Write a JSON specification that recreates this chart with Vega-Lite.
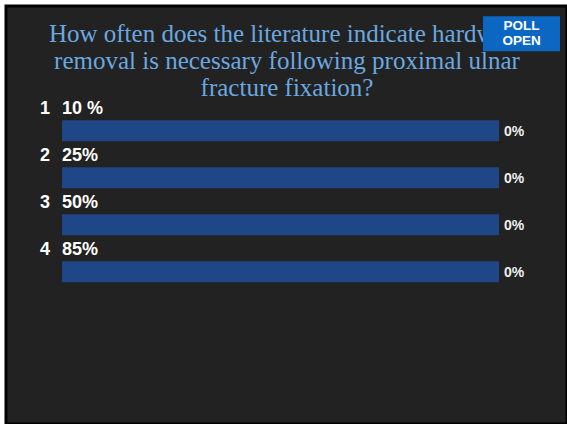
{
  "$schema": "https://vega.github.io/schema/vega-lite/v6.json",
  "width": 567,
  "height": 424,
  "autosize": {"type": "fit", "contains": "padding"},
  "padding": {"left": 6, "top": 6, "right": 0, "bottom": 0},
  "background": "white",
  "config": {
    "view": {"fill": "#222222", "stroke": "black", "strokeWidth": 3},
    "text": {"font": "Liberation Sans"}
  },
  "datasets": {
    "options": [
      {"row": 1, "answer": "10 %", "pct": 0, "track": 100},
      {"row": 2, "answer": "25%", "pct": 0, "track": 100},
      {"row": 3, "answer": "50%", "pct": 0, "track": 100},
      {"row": 4, "answer": "85%", "pct": 0, "track": 100}
    ],
    "question": [
      {"text": "How often does the literature indicate hardware\nremoval is necessary following proximal ulnar\nfracture fixation?"}
    ],
    "badge": [
      {"line": "POLL", "k": 0},
      {"line": "OPEN", "k": 1}
    ]
  },
  "layer": [
    {
      "data": {"name": "question"},
      "mark": {"type": "text", "font": "Liberation Serif", "fontSize": 25, "color": "#6aa8e0", "align": "center", "baseline": "alphabetic", "lineBreak": "\n", "lineHeight": 27},
      "encoding": {
        "x": {"datum": 51.49, "type": "quantitative", "scale": {"domain": [-12.8146, 115.5606], "zero": false, "nice": false}, "axis": null},
        "y": {"datum": -0.88, "type": "quantitative", "scale": {"domain": [-1.5436, 7.1286], "zero": false, "nice": false, "reverse": true}, "axis": null},
        "text": {"field": "text", "type": "nominal"}
      }
    },
    {
      "data": {"values": [{}]},
      "mark": {"type": "rect", "color": "#0b67c2"},
      "encoding": {
        "x": {"datum": 96.34, "type": "quantitative", "scale": {"domain": [-12.8146, 115.5606], "zero": false, "nice": false}, "axis": null},
        "x2": {"datum": 113.96},
        "y": {"datum": -1.43, "type": "quantitative", "scale": {"domain": [-1.5436, 7.1286], "zero": false, "nice": false, "reverse": true}, "axis": null},
        "y2": {"datum": -0.69}
      }
    },
    {
      "data": {"name": "badge"},
      "transform": [{"filter": "datum.k == 0"}],
      "mark": {"type": "text", "fontSize": 13.5, "fontWeight": "bold", "color": "white", "align": "center", "baseline": "middle", "dy": -7.5},
      "encoding": {
        "x": {"datum": 105.15, "type": "quantitative", "scale": {"domain": [-12.8146, 115.5606], "zero": false, "nice": false}, "axis": null},
        "y": {"datum": -1.06, "type": "quantitative", "scale": {"domain": [-1.5436, 7.1286], "zero": false, "nice": false, "reverse": true}, "axis": null},
        "text": {"field": "line", "type": "nominal"}
      }
    },
    {
      "data": {"name": "badge"},
      "transform": [{"filter": "datum.k == 1"}],
      "mark": {"type": "text", "fontSize": 13.5, "fontWeight": "bold", "color": "white", "align": "center", "baseline": "middle", "dy": 7.5},
      "encoding": {
        "x": {"datum": 105.15, "type": "quantitative", "scale": {"domain": [-12.8146, 115.5606], "zero": false, "nice": false}, "axis": null},
        "y": {"datum": -1.06, "type": "quantitative", "scale": {"domain": [-1.5436, 7.1286], "zero": false, "nice": false, "reverse": true}, "axis": null},
        "text": {"field": "line", "type": "nominal"}
      }
    },
    {
      "data": {"name": "options"},
      "mark": {"type": "bar", "orient": "horizontal", "size": 21, "color": "#1f4687"},
      "encoding": {
        "x": {"field": "track", "type": "quantitative", "scale": {"domain": [-12.8146, 115.5606], "zero": false, "nice": false}, "axis": null},
        "x2": {"datum": 0},
        "y": {"field": "row", "type": "quantitative", "scale": {"domain": [-1.5436, 7.1286], "zero": false, "nice": false, "reverse": true}, "axis": null}
      }
    },
    {
      "data": {"name": "options"},
      "mark": {"type": "text", "fontSize": 18, "fontWeight": "bold", "color": "white", "align": "left", "baseline": "alphabetic", "dx": -22, "dy": -17},
      "encoding": {
        "x": {"datum": 0, "type": "quantitative", "scale": {"domain": [-12.8146, 115.5606], "zero": false, "nice": false}, "axis": null},
        "y": {"field": "row", "type": "quantitative", "scale": {"domain": [-1.5436, 7.1286], "zero": false, "nice": false, "reverse": true}, "axis": null},
        "text": {"field": "row", "type": "nominal"}
      }
    },
    {
      "data": {"name": "options"},
      "mark": {"type": "text", "fontSize": 18, "fontWeight": "bold", "color": "white", "align": "left", "baseline": "alphabetic", "dx": 0, "dy": -17},
      "encoding": {
        "x": {"datum": 0, "type": "quantitative", "scale": {"domain": [-12.8146, 115.5606], "zero": false, "nice": false}, "axis": null},
        "y": {"field": "row", "type": "quantitative", "scale": {"domain": [-1.5436, 7.1286], "zero": false, "nice": false, "reverse": true}, "axis": null},
        "text": {"field": "answer", "type": "nominal"}
      }
    },
    {
      "data": {"name": "options"},
      "mark": {"type": "text", "fontSize": 14, "fontWeight": "bold", "color": "#f0f0f0", "align": "left", "baseline": "middle", "dx": 5, "dy": 1},
      "encoding": {
        "x": {"field": "track", "type": "quantitative", "scale": {"domain": [-12.8146, 115.5606], "zero": false, "nice": false}, "axis": null},
        "y": {"field": "row", "type": "quantitative", "scale": {"domain": [-1.5436, 7.1286], "zero": false, "nice": false, "reverse": true}, "axis": null},
        "text": {"field": "pct", "type": "quantitative", "format": ".0%"}
      }
    }
  ]
}
